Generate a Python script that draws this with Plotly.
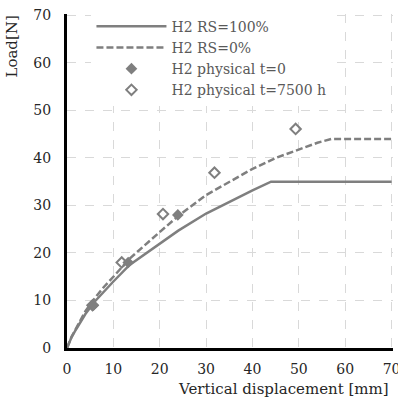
import plotly.graph_objects as go

# Data
rs100_x = [0, 1, 2, 4, 6, 8, 10, 13.5, 18, 24, 30, 36, 40, 44, 70]
rs100_y = [0, 2.3, 4.0, 7.2, 9.8, 12.0, 14.0, 17.5, 20.6, 24.7, 28.3, 31.3, 33.2, 35.0, 35.0]
rs0_x = [0, 1, 2, 4, 6, 8, 10, 13.5, 18, 24, 30, 36, 40, 45, 50, 54, 57, 70]
rs0_y = [0, 2.4, 4.2, 7.8, 10.5, 12.9, 15.0, 18.8, 22.7, 27.8, 32.2, 35.6, 37.7, 40.0, 41.8, 43.2, 44.0, 44.0]
phys0_x = [5.7, 13.2, 23.9]
phys0_y = [9.0, 18.0, 28.0]
phys7500_x = [5.5, 11.8, 20.7, 31.8, 49.3]
phys7500_y = [9.0, 18.0, 28.2, 36.9, 46.1]
ticks = [0, 10, 20, 30, 40, 50, 60, 70]

names = ["H2 RS=100%", "H2 RS=0%", "H2 physical t=0", "H2 physical t=7500 h"]
gray = "#7f7f7f"
FONT = "DejaVu Serif"

fig = go.Figure()
fig.add_trace(go.Scatter(x=rs100_x, y=rs100_y, mode="lines", name=names[0],
                         line=dict(color=gray, width=2.5)))
fig.add_trace(go.Scatter(x=rs0_x, y=rs0_y, mode="lines", name=names[1],
                         line=dict(color=gray, width=2.5, dash="7px,3px")))
fig.add_trace(go.Scatter(x=phys7500_x, y=phys7500_y, mode="markers", name=names[3],
                         marker=dict(symbol="diamond-open", color=gray, size=8,
                                     line=dict(width=2, color=gray)), showlegend=False))
fig.add_trace(go.Scatter(x=phys0_x, y=phys0_y, mode="markers", name=names[2],
                         marker=dict(symbol="diamond", color=gray, size=9)))
fig.add_trace(go.Scatter(x=[None], y=[None], mode="markers", name=names[3],
                         marker=dict(symbol="diamond-open", color=gray, size=8,
                                     line=dict(width=2, color=gray))))

axis_common = dict(
    range=[0, 70.3], tickvals=ticks, showgrid=True, gridcolor="#d9d9d9",
    griddash="dash", gridwidth=1, zeroline=False, showline=True, linecolor="black",
    linewidth=3, ticks="", tickfont=dict(family=FONT, size=14, color="#262626"),
    ticklabeloverflow="allow", automargin=False,
)
fig.update_xaxes(**axis_common, ticklabelstandoff=6)
fig.update_yaxes(**axis_common, ticklabelstandoff=10)

fig.add_annotation(text="Vertical displacement [mm]", xref="paper", yref="paper",
                   x=0.995, y=-0.09, xanchor="right", yanchor="top", showarrow=False,
                   font=dict(family=FONT, size=15, color="#262626"))
fig.add_annotation(text="Load[N]", xref="paper", yref="paper",
                   x=-0.17, y=1.0, xanchor="center", yanchor="top", textangle=-90,
                   showarrow=False, font=dict(family=FONT, size=15, color="#262626"))

fig.update_layout(
    width=398, height=407,
    margin=dict(l=67, r=5, t=14, b=59),
    plot_bgcolor="white", paper_bgcolor="white",
    showlegend=True,
    legend=dict(x=0.075, y=1.01, xanchor="left", yanchor="top", bgcolor="white",
                itemwidth=70, tracegroupgap=0,
                font=dict(family=FONT, size=14, color="#595959")),
)

fig.write_html("out.html")
